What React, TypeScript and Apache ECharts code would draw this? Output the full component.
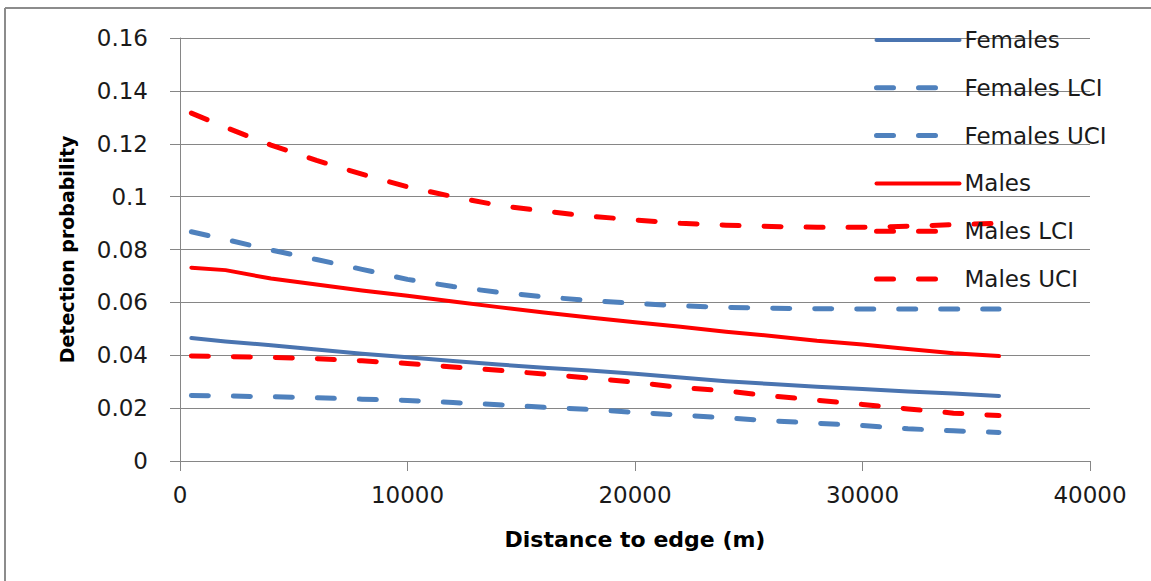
import React, { useEffect, useRef } from "react";
import * as echarts from "echarts";

const distances = [500, 2000, 4000, 6000, 8000, 10000, 12000, 14000, 16000, 18000, 20000, 22000, 24000, 26000, 28000, 30000, 32000, 34000, 36000];

const females = [0.0465, 0.0452, 0.0438, 0.0422, 0.0406, 0.0392, 0.0378, 0.0365, 0.0353, 0.0342, 0.0330, 0.0316, 0.0302, 0.0291, 0.0281, 0.0272, 0.0263, 0.0255, 0.0246];
const femalesLCI = [0.0248, 0.0246, 0.0243, 0.0239, 0.0234, 0.0229, 0.0221, 0.0213, 0.0203, 0.0195, 0.0184, 0.0174, 0.0163, 0.0152, 0.0143, 0.0134, 0.0122, 0.0114, 0.0108];
const femalesUCI = [0.0867, 0.0838, 0.0798, 0.0762, 0.0725, 0.0687, 0.0660, 0.0638, 0.0621, 0.0607, 0.0596, 0.0587, 0.0581, 0.0578, 0.0576, 0.0575, 0.0575, 0.0575, 0.0575];
const males = [0.0731, 0.0722, 0.0690, 0.0668, 0.0645, 0.0625, 0.0603, 0.0582, 0.0562, 0.0543, 0.0525, 0.0508, 0.0489, 0.0473, 0.0455, 0.0441, 0.0424, 0.0408, 0.0397];
const malesLCI = [0.0397, 0.0395, 0.0392, 0.0387, 0.0379, 0.0369, 0.0356, 0.0343, 0.0329, 0.0314, 0.0298, 0.0278, 0.0265, 0.0246, 0.0230, 0.0214, 0.0197, 0.0181, 0.0172];
const malesUCI = [0.1316, 0.1262, 0.1195, 0.1137, 0.1085, 0.1037, 0.1000, 0.0967, 0.0945, 0.0926, 0.0912, 0.0899, 0.0892, 0.0887, 0.0884, 0.0884, 0.0888, 0.0894, 0.0899];

const seriesNames = ["Females", "Females LCI", "Females UCI", "Males", "Males LCI", "Males UCI"];
const seriesValues = [females, femalesLCI, femalesUCI, males, malesLCI, malesUCI];
const seriesColors = ["#4A74B0", "#4F81BD", "#4F81BD", "#FF0000", "#FF0000", "#FF0000"];
const seriesDashed = [false, true, true, false, true, true];

export default function App() {
  const ref = useRef<HTMLDivElement>(null);
  useEffect(() => {
    document.body.style.margin = "0";
    if (!ref.current) return;
    const chart = echarts.init(ref.current, null, { renderer: "svg" });
    const font = "DejaVu Sans";
    chart.setOption({
      animation: false,
      backgroundColor: "#ffffff",
      grid: { left: 180, right: 61, top: 38, bottom: 120, containLabel: false },
      legend: {
        orient: "vertical",
        left: 869,
        top: 23,
        itemWidth: 83,
        itemHeight: 24,
        itemGap: 23.8,
        data: seriesNames,
        itemStyle: { opacity: 0 },
        lineStyle: { width: "inherit", type: "inherit", cap: "round" },
        textStyle: { fontFamily: font, fontSize: 23, color: "#1a1a1a", lineHeight: 24 },
      },
      xAxis: {
        type: "value",
        min: 0,
        max: 40000,
        interval: 10000,
        name: "Distance to edge (m)",
        nameLocation: "middle",
        nameGap: 67,
        nameTextStyle: { fontFamily: font, fontSize: 22, fontWeight: "bold", color: "#000" },
        axisLine: { show: true, lineStyle: { color: "#868686", width: 1 } },
        axisTick: { show: true, length: 10, lineStyle: { color: "#868686" } },
        axisLabel: { fontFamily: font, fontSize: 23, color: "#1a1a1a", margin: 22, formatter: (v: number) => String(v) },
        splitLine: { show: false },
      },
      yAxis: {
        type: "value",
        min: 0,
        max: 0.16,
        interval: 0.02,
        name: "Detection probability",
        nameLocation: "middle",
        nameGap: 104,
        nameTextStyle: { fontFamily: font, fontSize: 19, fontWeight: "bold", color: "#000" },
        axisLine: { show: true, lineStyle: { color: "#868686", width: 1 } },
        axisTick: { show: true, length: 10, lineStyle: { color: "#868686" } },
        axisLabel: { fontFamily: font, fontSize: 23, color: "#1a1a1a", margin: 32 },
        splitLine: { show: true, lineStyle: { color: "#868686", width: 1 } },
      },
      graphic: [
        { type: "line", shape: { x1: 5, y1: 8, x2: 1151, y2: 8 }, style: { stroke: "#8c8c8c", lineWidth: 2 } },
        { type: "line", shape: { x1: 5, y1: 8, x2: 5, y2: 581 }, style: { stroke: "#8c8c8c", lineWidth: 2 } },
      ],
      series: seriesNames.map((name, i) => ({
        name,
        type: "line",
        symbol: "none",
        data: distances.map((d, j) => [d, seriesValues[i][j]]),
        lineStyle: {
          color: seriesColors[i],
          width: seriesDashed[i] ? 5 : 4,
          type: seriesDashed[i] ? [17, 25] : "solid",
          cap: "round",
          join: "round",
        },
        itemStyle: { color: seriesColors[i] },
      })),
    });
    return () => chart.dispose();
  }, []);
  return <div ref={ref} style={{ width: 1151, height: 581 }} />;
}
